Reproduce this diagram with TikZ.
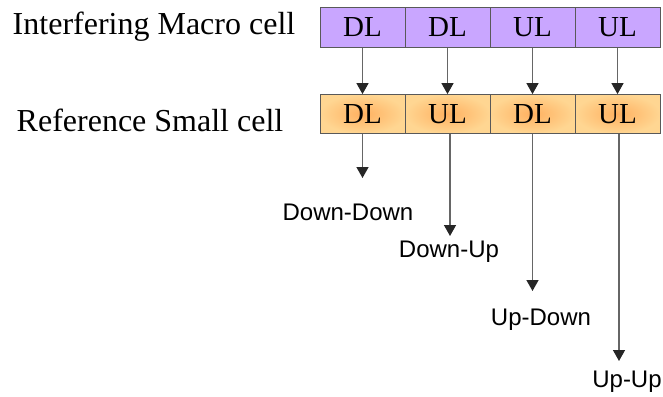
\documentclass[tikz,border=0pt]{standalone}
\usepackage{fontspec}
\setmainfont{Liberation Serif}
\newfontfamily\labelfont{Liberation Sans}
\usetikzlibrary{arrows.meta}

\definecolor{macropurple}{RGB}{201,166,255}
\definecolor{smallorange}{RGB}{255,176,96}
\definecolor{smalllight}{RGB}{255,214,146}

\begin{document}
\begin{tikzpicture}[
    % Work in pixel-like units, y pointing down
    x=1pt, y=-1pt,
    % Define styles for the elements
    macro_cell/.style={draw=black!65, thick, fill=macropurple, minimum width=85pt, minimum height=40pt, inner sep=0pt, font=\fontsize{29}{30}\selectfont},
    small_cell/.style={draw=black!65, thick, inner color=smallorange, outer color=smalllight, minimum width=85pt, minimum height=39pt, inner sep=0pt, font=\fontsize{29}{30}\selectfont},
    row_label/.style={font=\fontsize{32}{34}\selectfont},
    case_label/.style={font=\labelfont\fontsize{24}{26}\selectfont},
    arrow_style/.style={draw=black!60, line width=1.4pt, -{Triangle[length=11pt, width=12pt, color=black!85]}}
  ]

  \useasboundingbox (0,0) rectangle (663,396);

  % --- Step 1: The interfering macro cell frame ---
  \node[row_label] (macro_lbl) at (154,27) {Interfering Macro cell};
  \node[macro_cell] (macro1) at (362.5,27.5) {DL};
  \node[macro_cell] (macro2) at (447.5,27.5) {DL};
  \node[macro_cell] (macro3) at (532.5,27.5) {UL};
  \node[macro_cell] (macro4) at (617.5,27.5) {UL};

  % --- Step 2: The reference small cell frame ---
  \node[row_label] (small_lbl) at (150,120) {Reference Small cell};
  \node[small_cell] (small1) at (362.5,114) {DL};
  \node[small_cell] (small2) at (447.5,114) {UL};
  \node[small_cell] (small3) at (532.5,114) {DL};
  \node[small_cell] (small4) at (617.5,114) {UL};

  % --- Step 3: Arrows from macro slots to small cell slots ---
  \draw[arrow_style] (macro1) -- (small1);
  \draw[arrow_style] (macro2) -- (small2);
  \draw[arrow_style] (macro3) -- (small3);
  \draw[arrow_style] (macro4) -- (small4);

  % --- Step 4: The four interference cases ---
  % Each arrow gets longer, so the labels form a staircase.
  \coordinate (tip_dd) at (362.5,178);
  \coordinate (tip_du) at (450,236);
  \coordinate (tip_ud) at (532.5,291);
  \coordinate (tip_uu) at (619,361);

  \draw[arrow_style] (small1.south) -- (tip_dd);
  \draw[arrow_style] (small2.south -| tip_du) -- (tip_du);
  \draw[arrow_style] (small3.south) -- (tip_ud);
  \draw[arrow_style] (small4.south -| tip_uu) -- (tip_uu);

  \node[case_label] (case_dd) at (348,212) {Down-Down};
  \node[case_label] (case_du) at (449,252) {Down-Up};
  \node[case_label] (case_ud) at (541,320) {Up-Down};
  \node[case_label] (case_uu) at (627,382) {Up-Up};

\end{tikzpicture}
\end{document}
